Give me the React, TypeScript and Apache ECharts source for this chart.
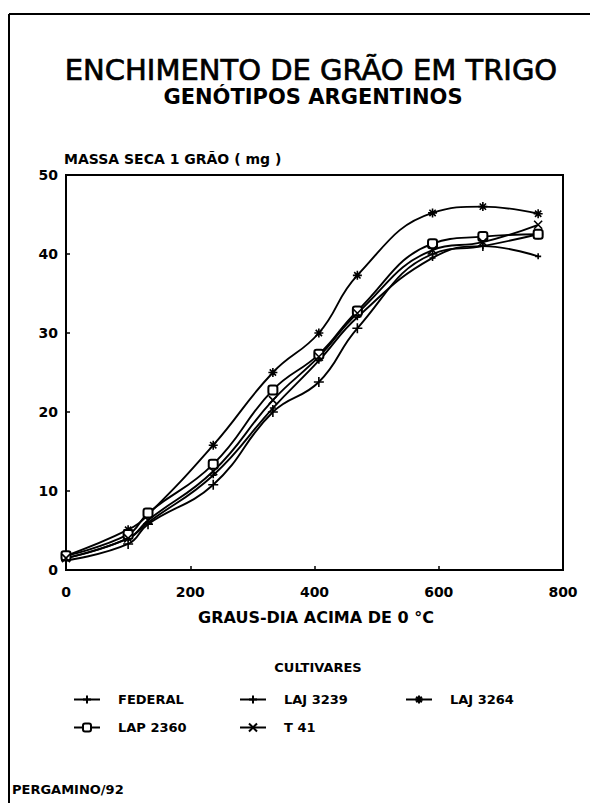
import React, { useEffect, useRef } from 'react';
import * as echarts from 'echarts';

// Thermal time (degree-days above 0 °C) at each sampling
const gddX = [0, 100, 132, 237, 333, 407, 469, 590, 671, 760];
// Dry mass of one grain (mg)
const federal = [1.5, 4.0, 6.0, 12.0, 20.5, 26.5, 32.0, 39.5, 41.0, 39.7];
const laj3239 = [1.2, 3.3, 5.8, 10.8, 20.0, 23.8, 30.6, 40.0, 41.0, 42.5];
const laj3264 = [1.8, 5.1, 7.0, 15.8, 25.0, 30.0, 37.3, 45.2, 46.0, 45.1];
const lap2360 = [1.8, 4.5, 7.2, 13.4, 22.8, 27.3, 32.8, 41.3, 42.2, 42.5];
const t41 = [1.5, 4.0, 6.3, 12.5, 21.5, 27.0, 32.5, 40.5, 41.5, 43.7];

const seriesNames = ['FEDERAL', 'LAJ 3239', 'LAJ 3264', 'LAP 2360', 'T 41'];
const seriesValues = [federal, laj3239, laj3264, lap2360, t41];

const xAxisMin = 0;
const xAxisMax = 800;
const xAxisStep = 200;
const yAxisMin = 0;
const yAxisMax = 50;
const yAxisStep = 10;

const titleText = 'ENCHIMENTO DE GRÃO EM TRIGO';
const subtitleText = 'GENÓTIPOS ARGENTINOS';
const yNameText = 'MASSA SECA 1 GRÃO ( mg )';
const xNameText = 'GRAUS-DIA ACIMA DE 0 °C';
const legendTitleText = 'CULTIVARES';
const footText = 'PERGAMINO/92';

const FONT = '"DejaVu Sans", "Liberation Sans", sans-serif';

const symbolFor: Record<string, { symbol: string; size: number }> = {
  'FEDERAL': { symbol: 'path://M5,0V10M0,5H10', size: 6 },
  'LAJ 3239': { symbol: 'path://M5,0V10M0,5H10', size: 10 },
  'LAJ 3264': {
    symbol: 'path://M5,0V10M0,5H10M1.5,1.5L8.5,8.5M8.5,1.5L1.5,8.5',
    size: 9,
  },
  'LAP 2360': { symbol: 'emptyRoundRect', size: 9 },
  'T 41': { symbol: 'path://M0,0L10,10M10,0L0,10', size: 8 },
};

const legendPos: Record<string, { left: number; top: number }> = {
  'FEDERAL': { left: 68, top: 688 },
  'LAJ 3239': { left: 234, top: 688 },
  'LAJ 3264': { left: 400, top: 688 },
  'LAP 2360': { left: 68, top: 716 },
  'T 41': { left: 234, top: 716 },
};

export default function App() {
  const ref = useRef<HTMLDivElement>(null);

  useEffect(() => {
    if (!ref.current) return;
    const chart = echarts.init(ref.current, undefined, { renderer: 'svg' });

    const series = seriesNames.map((name, i) => ({
      name,
      type: 'line',
      data: gddX.map((x, j) => [x, seriesValues[i][j]]),
      smooth: 0.45,
      symbol: symbolFor[name].symbol,
      symbolSize: symbolFor[name].size,
      showSymbol: true,
      lineStyle: { color: '#000', width: 1.9 },
      itemStyle: { color: '#000', borderColor: '#000', borderWidth: 1.6 },
      z: 3,
    }));

    const legends = seriesNames.map((name) => ({
      data: [name],
      left: legendPos[name].left,
      top: legendPos[name].top,
      orient: 'horizontal',
      itemWidth: 26,
      itemHeight: 10,
      itemGap: 10,
      selectedMode: false,
      textStyle: {
        fontFamily: FONT,
        fontWeight: 'bold',
        fontSize: 13,
        color: '#000',
        padding: [0, 0, 0, 13],
      },
    }));

    chart.setOption({
      animation: false,
      backgroundColor: '#fff',
      grid: {
        left: 66,
        right: 27,
        top: 175,
        bottom: 233,
        show: true,
        borderColor: '#000',
        borderWidth: 2,
        backgroundColor: 'transparent',
      },
      legend: legends,
      xAxis: {
        type: 'value',
        min: xAxisMin,
        max: xAxisMax,
        interval: xAxisStep,
        axisLine: { show: true, lineStyle: { color: '#000', width: 2 } },
        axisTick: { show: true, inside: true, length: 4, lineStyle: { color: '#000', width: 1.5 } },
        splitLine: { show: false },
        axisLabel: {
          color: '#000',
          fontFamily: FONT,
          fontWeight: 'bold',
          fontSize: 14,
          margin: 15,
        },
      },
      yAxis: {
        type: 'value',
        min: yAxisMin,
        max: yAxisMax,
        interval: yAxisStep,
        axisLine: { show: true, lineStyle: { color: '#000', width: 2 } },
        axisTick: { show: true, inside: true, length: 4, lineStyle: { color: '#000', width: 1.5 } },
        splitLine: { show: false },
        axisLabel: {
          color: '#000',
          fontFamily: FONT,
          fontWeight: 'bold',
          fontSize: 14,
          margin: 8,
        },
      },
      series,
      graphic: [
        {
          type: 'line',
          shape: { x1: 9, y1: 14, x2: 590, y2: 14 },
          style: { stroke: '#000', lineWidth: 2 },
        },
        {
          type: 'line',
          shape: { x1: 9, y1: 14, x2: 9, y2: 803 },
          style: { stroke: '#000', lineWidth: 2 },
        },
        {
          type: 'text',
          x: 311,
          y: 70,
          style: {
            text: titleText,
            fontFamily: FONT,
            fontSize: 29,
            fontWeight: 'normal',
            fill: '#000',
            stroke: '#000',
            lineWidth: 0.7,
            align: 'center',
            verticalAlign: 'middle',
          },
        },
        {
          type: 'text',
          x: 313,
          y: 97,
          style: {
            text: subtitleText,
            fontFamily: FONT,
            fontSize: 21,
            fontWeight: 'bold',
            fill: '#000',
            align: 'center',
            verticalAlign: 'middle',
          },
        },
        {
          type: 'text',
          x: 64,
          y: 159,
          style: {
            text: yNameText,
            fontFamily: FONT,
            fontSize: 14,
            fontWeight: 'bold',
            fill: '#000',
            align: 'left',
            verticalAlign: 'middle',
          },
        },
        {
          type: 'text',
          x: 316,
          y: 617,
          style: {
            text: xNameText,
            fontFamily: FONT,
            fontSize: 16,
            fontWeight: 'bold',
            fill: '#000',
            align: 'center',
            verticalAlign: 'middle',
          },
        },
        {
          type: 'text',
          x: 318,
          y: 667,
          style: {
            text: legendTitleText,
            fontFamily: FONT,
            fontSize: 13,
            fontWeight: 'bold',
            fill: '#000',
            align: 'center',
            verticalAlign: 'middle',
          },
        },
        {
          type: 'text',
          x: 12,
          y: 789,
          style: {
            text: footText,
            fontFamily: FONT,
            fontSize: 13,
            fontWeight: 'bold',
            fill: '#000',
            align: 'left',
            verticalAlign: 'middle',
          },
        },
      ],
    });

    return () => {
      chart.dispose();
    };
  }, []);

  return (
    <div
      ref={ref}
      style={{ position: 'fixed', left: 0, top: 0, width: 590, height: 803, background: '#fff' }}
    />
  );
}
